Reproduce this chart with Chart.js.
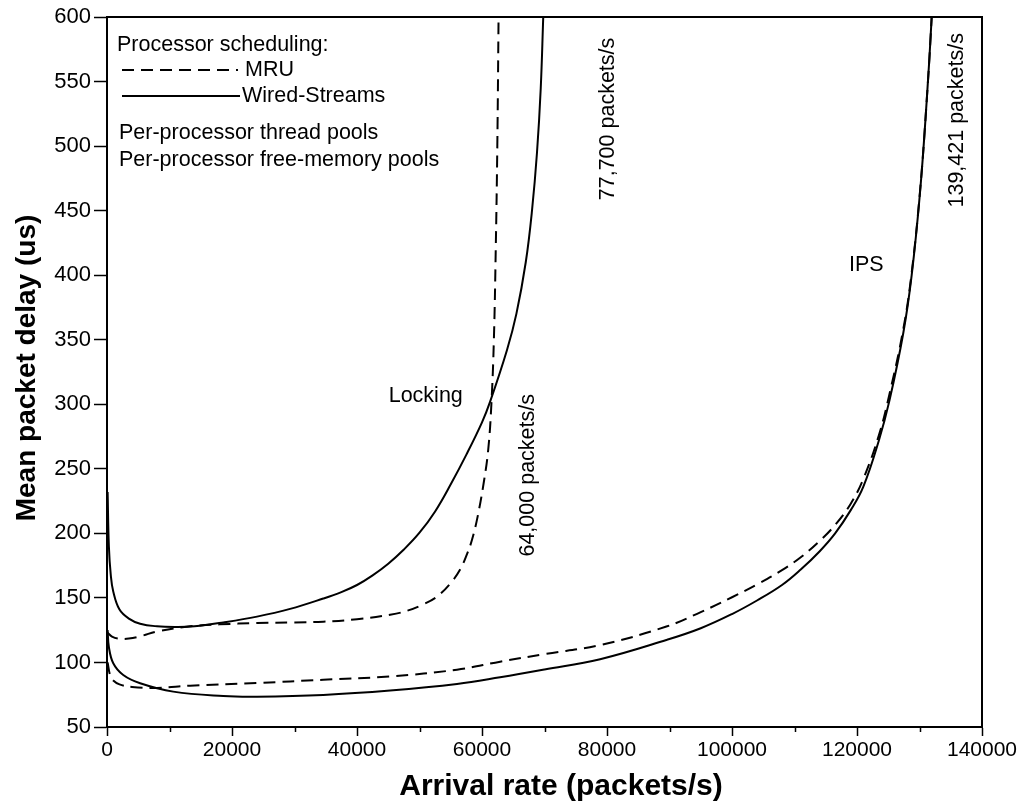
<!DOCTYPE html>
<html>
<head>
<meta charset="utf-8">
<script src="https://cdn.jsdelivr.net/npm/chart.js@4.4.1/dist/chart.umd.min.js"></script>
<style>
  html, body { margin: 0; padding: 0; background: #fff; }
  #wrap { width: 1026px; height: 811px; }
</style>
</head>
<body>
<div id="wrap"><canvas id="c" width="1026" height="811"></canvas></div>
<script>
// Arrival rate (packets/s) vs mean packet delay (us)

// Locking, Wired-Streams scheduling
const lockWiredX = [100, 300, 600, 1000, 2000, 3500, 5300, 8000, 11000, 14000, 18600, 24000, 29300, 34600, 37500, 40000, 42500, 45000, 47500, 50000, 52500, 55000, 57500, 60000, 61300, 64000, 65500, 67000, 68000, 68800, 69400, 69800, 70100];
const lockWiredY = [232, 190, 168, 155, 141, 134, 130, 128, 127.5, 128, 131, 135.5, 141.5, 149.5, 154.5, 160, 167.5, 176.5, 187.5, 200.5, 217, 238, 261, 286, 302, 342, 370, 410, 450, 495, 545, 600, 640];

// Locking, MRU scheduling
const lockMruX = [100, 800, 1800, 3500, 5500, 8000, 13300, 18000, 24000, 30000, 34600, 40000, 45300, 48000, 50600, 52800, 54900, 56500, 57600, 58400, 59300, 60300, 61000, 61500, 61900, 62200, 62450, 62650, 62750];
const lockMruY = [123, 120, 118.5, 118.5, 120.5, 124, 128, 129.5, 130.5, 131, 131.6, 133.5, 137, 140, 145, 151, 161, 172, 184, 195, 213, 240, 265, 300, 350, 420, 500, 600, 650];

// IPS, Wired-Streams scheduling
const ipsWiredX = [100, 300, 1000, 2600, 5300, 10600, 18600, 24000, 34600, 45300, 56000, 62900, 70000, 78900, 89500, 95000, 100000, 104000, 108000, 111000, 114000, 116500, 119000, 121000, 123500, 125200, 127400, 128750, 130100, 131150, 131950, 132300];
const ipsWiredY = [125, 112, 99.4, 90.3, 83.9, 77.4, 74, 73.5, 74.8, 78.2, 83.3, 88.5, 94.5, 102.5, 117.4, 126.5, 137.5, 148, 160, 172, 186, 200, 218, 236, 272, 303, 355, 400, 465, 535, 600, 640];

// IPS, MRU scheduling
const ipsMruX = [100, 500, 1000, 2000, 4000, 8000, 13300, 24000, 34600, 45300, 56000, 62900, 70000, 78900, 89500, 95000, 100000, 104000, 108000, 111000, 114000, 116500, 119000, 121000, 123500, 125200, 127400, 128750, 130100, 131150, 131950, 132300];
const ipsMruY = [100, 90, 86, 83, 81, 80.3, 82, 84.1, 86.6, 89.2, 94.4, 100.6, 106.5, 113.5, 127.8, 139, 150.5, 160.5, 171.5, 181.5, 194, 206.5, 223, 242, 276, 308, 358, 402, 466, 535, 600, 640];

// Labelled ticks on both axes
const xTickValues = [0, 20000, 40000, 60000, 80000, 100000, 120000, 140000];
const yTickValues = [50, 100, 150, 200, 250, 300, 350, 400, 450, 500, 550, 600];

const FONT = '"Liberation Sans", Arial, Helvetica, sans-serif';

function points(xs, ys) {
  return xs.map((x, i) => ({ x: x, y: ys[i] }));
}

function series(xs, ys, dashed) {
  return {
    data: points(xs, ys),
    borderColor: '#000',
    borderWidth: 2,
    borderDash: dashed ? [12, 7] : [],
    pointRadius: 0,
    fill: false,
    tension: 0.4
  };
}

const annotations = {
  id: 'annotations',
  afterDraw(chart) {
    const { ctx, chartArea: a, scales: { x, y } } = chart;
    ctx.save();

    // plot frame
    ctx.strokeStyle = '#000';
    ctx.lineWidth = 2;
    ctx.setLineDash([]);
    ctx.strokeRect(a.left, a.top, a.right - a.left, a.bottom - a.top);

    // minor x ticks
    ctx.lineWidth = 1.5;
    for (let v = 10000; v < 140000; v += 20000) {
      const px = Math.round(x.getPixelForValue(v)) + 0.5;
      ctx.beginPath();
      ctx.moveTo(px, a.bottom);
      ctx.lineTo(px, a.bottom + 5);
      ctx.stroke();
    }

    ctx.fillStyle = '#000';
    ctx.textBaseline = 'middle';

    // key in the upper left corner
    ctx.font = '21.5px ' + FONT;
    ctx.textAlign = 'left';
    ctx.fillText('Processor scheduling:', a.left + 10, 45);
    ctx.lineWidth = 2;
    ctx.setLineDash([12, 7]);
    ctx.beginPath(); ctx.moveTo(a.left + 15, 70); ctx.lineTo(a.left + 131, 70); ctx.stroke();
    ctx.setLineDash([]);
    ctx.beginPath(); ctx.moveTo(a.left + 15, 96); ctx.lineTo(a.left + 133, 96); ctx.stroke();
    ctx.fillText('MRU', a.left + 138, 70);
    ctx.fillText('Wired-Streams', a.left + 135, 96);
    ctx.fillText('Per-processor thread pools', a.left + 12, 133);
    ctx.fillText('Per-processor free-memory pools', a.left + 12, 160);

    // curve labels
    ctx.textAlign = 'center';
    ctx.fillText('Locking', x.getPixelForValue(51000), y.getPixelForValue(306));
    ctx.fillText('IPS', x.getPixelForValue(121500), y.getPixelForValue(408));

    // capacity labels, rotated
    const vertical = (text, vx, vy) => {
      ctx.save();
      ctx.translate(x.getPixelForValue(vx), y.getPixelForValue(vy));
      ctx.rotate(-Math.PI / 2);
      ctx.fillText(text, 0, 0);
      ctx.restore();
    };
    vertical('64,000 packets/s', 67400, 245);
    vertical('77,700 packets/s', 80200, 521);
    vertical('139,421 packets/s', 136000, 520);

    // axis titles
    ctx.font = 'bold 30px ' + FONT;
    ctx.fillText('Arrival rate (packets/s)', 561, 787);
    ctx.save();
    ctx.translate(27, 368);
    ctx.rotate(-Math.PI / 2);
    ctx.font = 'bold 28px ' + FONT;
    ctx.fillText('Mean packet delay (us)', 0, 0);
    ctx.restore();

    ctx.restore();
  }
};

new Chart(document.getElementById('c'), {
  type: 'line',
  data: {
    datasets: [
      series(lockWiredX, lockWiredY, false),
      series(lockMruX, lockMruY, true),
      series(ipsWiredX, ipsWiredY, false),
      series(ipsMruX, ipsMruY, true)
    ]
  },
  options: {
    responsive: false,
    animation: false,
    devicePixelRatio: 1,
    layout: { padding: { top: 17, right: 44, left: 0, bottom: 0 } },
    plugins: { legend: { display: false }, tooltip: { enabled: false } },
    scales: {
      x: {
        type: 'linear',
        min: 0,
        max: 140000,
        afterBuildTicks: (scale) => { scale.ticks = xTickValues.map(v => ({ value: v })); },
        afterFit: (scale) => { scale.height = 84; },
        ticks: {
          color: '#000',
          font: { family: FONT, size: 21 },
          padding: 2,
          maxRotation: 0,
          autoSkip: false,
          callback: (v) => String(v)
        },
        grid: { drawOnChartArea: false, tickLength: 9, tickColor: '#000', tickWidth: 1.5 },
        border: { color: '#000', width: 2 }
      },
      y: {
        type: 'linear',
        min: 50,
        max: 600,
        afterBuildTicks: (scale) => { scale.ticks = yTickValues.map(v => ({ value: v })); },
        afterFit: (scale) => { scale.width = 107; },
        ticks: {
          color: '#000',
          font: { family: FONT, size: 22 },
          padding: 3,
          autoSkip: false,
          callback: (v) => String(v)
        },
        grid: { drawOnChartArea: false, tickLength: 13, tickColor: '#000', tickWidth: 1.5 },
        border: { color: '#000', width: 2 }
      }
    }
  },
  plugins: [annotations]
});
</script>
</body>
</html>
